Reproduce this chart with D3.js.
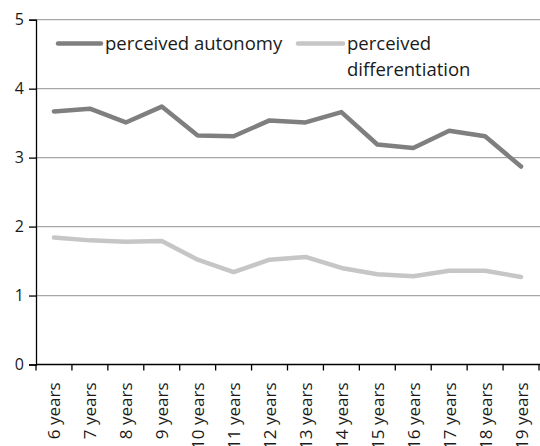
<!DOCTYPE html>
<html>
<head>
<meta charset="utf-8">
<script src="https://cdn.jsdelivr.net/npm/d3@7"></script>
<style>
  body { margin: 0; background: #fff; }
  svg { display: block; font-family: "Open Sans", sans-serif; }
</style>
</head>
<body>
<svg width="540" height="446"></svg>
<script>
// data
const categories = ["6 years", "7 years", "8 years", "9 years", "10 years", "11 years", "12 years",
  "13 years", "14 years", "15 years", "16 years", "17 years", "18 years", "19 years"];
const autonomy = [3.67, 3.71, 3.51, 3.74, 3.32, 3.31, 3.54, 3.51, 3.66, 3.19, 3.14, 3.39, 3.31, 2.87];
const differentiation = [1.84, 1.80, 1.78, 1.79, 1.52, 1.34, 1.52, 1.56, 1.40, 1.31, 1.28, 1.36, 1.36, 1.27];
const yTicks = [0, 1, 2, 3, 4, 5];
const seriesNames = ["perceived autonomy", "perceived differentiation"];

const svg = d3.select("svg");
const mLeft = 36, mRight = 539, mTop = 19.7, mBottom = 364.5;

const x = d3.scaleBand().domain(categories).range([mLeft, mRight]).padding(0);
const y = d3.scaleLinear().domain([0, 5]).range([mBottom, mTop]);

// gridlines
svg.append("g")
  .selectAll("line")
  .data(yTicks.filter(d => d > 0))
  .join("line")
  .attr("x1", mLeft).attr("x2", 540)
  .attr("y1", d => y(d)).attr("y2", d => y(d))
  .attr("stroke", "#a6a6a6")
  .attr("stroke-width", 1.3);

// y axis
const yAxis = svg.append("g")
  .attr("transform", `translate(${mLeft},0)`)
  .call(d3.axisLeft(y).tickValues(yTicks).tickFormat(d3.format("d")).tickSize(7).tickPadding(5));
yAxis.select(".domain").attr("stroke", "#000").attr("stroke-width", 1.3);
yAxis.selectAll(".tick line").attr("stroke", "#000").attr("stroke-width", 1.3);
yAxis.selectAll("text").attr("font-size", 16).attr("fill", "#1a1a1a").attr("font-family", "Open Sans");

// x axis (labels)
const xAxis = svg.append("g")
  .attr("transform", `translate(0,${mBottom})`)
  .call(d3.axisBottom(x).tickSize(0));
xAxis.select(".domain").remove();
xAxis.selectAll("text")
  .attr("font-size", 17).attr("fill", "#1a1a1a").attr("font-family", "Open Sans")
  .attr("transform", "rotate(-90)")
  .attr("text-anchor", "end")
  .attr("x", -18).attr("y", 0).attr("dy", "0.38em");

// x axis line + ticks at band edges
const edges = categories.map(c => x(c)).concat([x.range()[1]]);
svg.append("line")
  .attr("x1", mLeft).attr("x2", 540)
  .attr("y1", mBottom).attr("y2", mBottom)
  .attr("stroke", "#000").attr("stroke-width", 1.3);
svg.append("g")
  .selectAll("line")
  .data(edges)
  .join("line")
  .attr("x1", d => d).attr("x2", d => d)
  .attr("y1", mBottom).attr("y2", mBottom + 6)
  .attr("stroke", "#000").attr("stroke-width", 1.3);

// lines
const line = d3.line()
  .x((d, i) => x(categories[i]) + x.bandwidth() / 2)
  .y(d => y(d));

const colors = ["#7f7f7f", "#c6c6c6"];
[autonomy, differentiation].forEach((s, k) => {
  svg.append("path")
    .datum(s)
    .attr("d", line)
    .attr("fill", "none")
    .attr("stroke", colors[k])
    .attr("stroke-width", 4.5)
    .attr("stroke-linejoin", "round")
    .attr("stroke-linecap", "round");
});

// legend
const legend = svg.append("g");
const legendItems = [
  { x0: 58, x1: 101, tx: 105, lines: ["perceived autonomy"] },
  { x0: 298, x1: 343, tx: 347, lines: ["perceived", "differentiation"] }
];
legendItems.forEach((it, k) => {
  legend.append("line")
    .attr("x1", it.x0).attr("x2", it.x1)
    .attr("y1", 43.5).attr("y2", 43.5)
    .attr("stroke", colors[k]).attr("stroke-width", 4.5)
    .attr("stroke-linecap", "round");
  const t = legend.append("text")
    .attr("x", it.tx).attr("y", 43.5)
    .attr("font-size", 18.5).attr("fill", "#1a1a1a");
  it.lines.forEach((l, j) => {
    t.append("tspan")
      .attr("x", it.tx)
      .attr("dy", j === 0 ? "0.36em" : 25.5)
      .text(l);
  });
});
</script>
</body>
</html>
